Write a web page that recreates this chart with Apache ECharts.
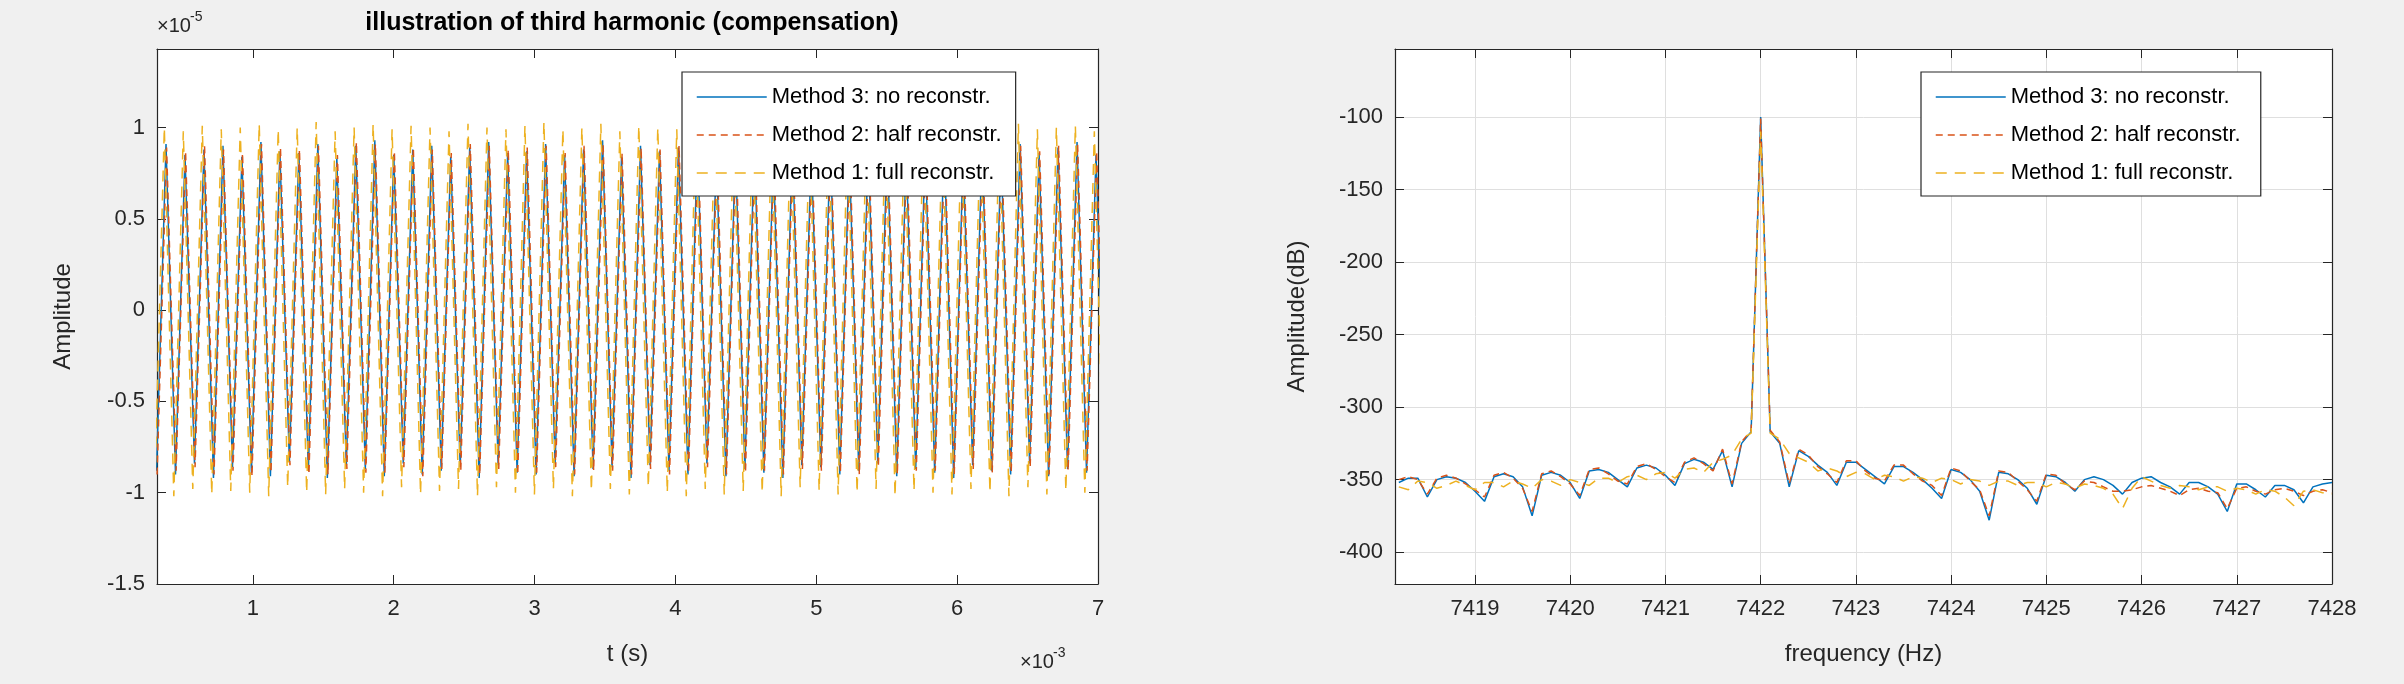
<!DOCTYPE html>
<html><head><meta charset="utf-8">
<script src="https://cdn.jsdelivr.net/npm/echarts@6/dist/echarts.min.js"></script>
<style>html,body{margin:0;background:#f0f0f0}#c{width:2404px;height:684px}</style>
</head><body><div id="c"></div>
<script>
// ---- Time domain data (t in ms, amplitude in 1e-5) ----
const freqHz = 7422;              // signal frequency
const firstPeak = [0.384, 0.388, 0.372]; // ms, Method 3, 2, 1
const xTicksT = [1,2,3,4,5,6,7];
const yTicksT = [-1.5,-1,-0.5,0,0.5,1];
const xTicksF = [7419,7420,7421,7422,7423,7424,7425,7426,7427,7428];
const yTicksF = [-400,-350,-300,-250,-200,-150,-100];
const bluePk = [0.91,0.85,0.88,0.90,0.84,0.92,0.87,0.86,0.91,0.83,0.90,0.93,0.85,0.88,0.90,0.84,0.89,0.92,0.86,0.87,0.91,0.85,0.88,0.93,0.84,0.90,0.87,0.89,0.92,0.85,0.88,0.91,0.84,0.90,0.87,0.92,0.86,0.89,0.91,0.85,0.88,0.92,0.84,0.90,0.87,0.91,0.86,0.89,0.92,0.85,0.90];
const blueTr = [-0.88,-0.90,-0.84,-0.92,-0.86,-0.89,-0.91,-0.83,-0.88,-0.92,-0.85,-0.87,-0.91,-0.84,-0.90,-0.88,-0.86,-0.92,-0.85,-0.89,-0.90,-0.84,-0.91,-0.87,-0.86,-0.92,-0.85,-0.88,-0.90,-0.84,-0.91,-0.87,-0.89,-0.92,-0.85,-0.86,-0.90,-0.88,-0.84,-0.91,-0.87,-0.89,-0.92,-0.85,-0.88,-0.90,-0.84,-0.91,-0.87,-0.89,-0.86];
const orangePk = [0.89,0.87,0.90,0.88,0.86,0.91,0.89,0.88,0.90,0.85,0.92,0.91,0.87,0.89,0.88,0.86,0.91,0.90,0.88,0.89,0.90,0.86,0.90,0.91,0.86,0.89,0.88,0.90,0.91,0.87,0.89,0.90,0.86,0.91,0.88,0.90,0.87,0.90,0.89,0.87,0.89,0.91,0.86,0.89,0.88,0.90,0.87,0.90,0.91,0.87,0.89];
const orangeTr = [-0.90,-0.88,-0.86,-0.90,-0.88,-0.91,-0.89,-0.85,-0.90,-0.90,-0.87,-0.89,-0.89,-0.86,-0.91,-0.87,-0.88,-0.90,-0.87,-0.90,-0.89,-0.86,-0.90,-0.88,-0.88,-0.90,-0.87,-0.90,-0.89,-0.86,-0.90,-0.89,-0.88,-0.90,-0.87,-0.88,-0.89,-0.90,-0.86,-0.90,-0.88,-0.88,-0.90,-0.87,-0.89,-0.89,-0.86,-0.90,-0.88,-0.88,-0.87];
const yellowPk = [1.00,0.98,1.01,0.99,1.00,1.02,0.99,1.00,1.03,0.98,1.00,1.02,0.99,1.01,1.00,0.98,1.02,1.00,0.99,1.01,1.03,0.99,1.00,1.02,0.98,1.01,1.00,0.99,1.03,0.99,1.00,1.02,0.98,1.01,1.00,1.02,0.99,1.00,1.01,0.98,1.00,1.02,0.99,1.01,1.00,1.02,0.99,1.00,1.01,0.98,1.00];
const yellowTr = [-0.96,-1.02,-0.98,-1.01,-0.99,-1.00,-1.02,-0.97,-1.00,-1.01,-0.98,-1.00,-1.02,-0.97,-1.01,-0.99,-0.98,-1.02,-0.97,-1.00,-1.01,-0.98,-1.02,-0.99,-0.98,-1.01,-0.97,-1.00,-1.02,-0.98,-1.01,-0.99,-1.00,-1.02,-0.97,-0.99,-1.01,-1.00,-0.98,-1.02,-0.99,-1.00,-1.01,-0.98,-1.00,-1.02,-0.97,-1.01,-0.99,-1.00,-1.02];

// ---- Spectrum data (f step 0.1 Hz from 7418.2) ----
const fStart = 7418.2, fStep = 0.1;
const specBlue = [-352,-349,-349,-362,-350,-348,-349,-352,-358,-365,-348,-346,-348,-355,-375,-347,-345,-347,-352,-363,-344,-343,-345,-350,-355,-342,-340,-342,-347,-354,-339,-336,-338,-343,-330,-355,-325,-317,-100,-317,-325,-355,-330,-334,-340,-345,-354,-338,-338,-343,-348,-353,-341,-341,-345,-350,-356,-363,-343,-345,-350,-358,-378,-345,-346,-350,-356,-367,-347,-348,-352,-358,-350,-348,-350,-354,-360,-352,-349,-348,-352,-355,-360,-352,-352,-355,-360,-372,-353,-353,-357,-362,-354,-354,-357,-366,-355,-353,-352];
const specOrange = [-350,-348,-350,-360,-349,-347,-349,-353,-357,-362,-347,-345,-349,-356,-372,-346,-344,-348,-353,-361,-343,-342,-346,-351,-353,-341,-339,-343,-348,-352,-338,-335,-339,-344,-329,-353,-324,-316,-101,-316,-324,-353,-329,-333,-341,-346,-352,-337,-337,-344,-349,-351,-340,-340,-346,-351,-354,-361,-342,-344,-351,-357,-375,-344,-345,-351,-357,-365,-346,-347,-353,-357,-351,-352,-355,-358,-358,-357,-355,-354,-356,-358,-361,-357,-356,-358,-359,-370,-356,-355,-358,-360,-357,-356,-358,-361,-358,-357,-359];
const specYellow = [-355,-357,-351,-352,-356,-354,-351,-354,-357,-352,-352,-355,-351,-353,-356,-350,-351,-354,-350,-352,-354,-349,-349,-352,-348,-347,-350,-346,-345,-349,-343,-342,-345,-338,-336,-333,-322,-318,-110,-318,-322,-332,-335,-338,-344,-342,-344,-348,-345,-346,-350,-347,-348,-351,-348,-349,-352,-349,-350,-353,-350,-351,-354,-351,-351,-354,-352,-352,-355,-352,-353,-356,-353,-354,-356,-360,-370,-356,-348,-351,-354,-356,-354,-355,-357,-355,-355,-358,-356,-357,-360,-357,-358,-362,-368,-358,-357,-359,-360];

const names = ['Method 3: no reconstr.','Method 2: half reconstr.','Method 1: full reconstr.'];
const colors = ['#0072BD','#D95319','#EDB120'];

function wave(t0, pk, tr){
  const T = 1000 / freqHz; const out = [];
  for (let k = 0; k < pk.length; k++){
    out.push([t0 + k*T - T/2, tr[k]]);
    out.push([t0 + k*T, pk[k]]);
  }
  return out;
}
function spec(arr){ return arr.map((v,i)=>[+(fStart + i*fStep).toFixed(2), v]); }

const font = 'Liberation Sans, Arial, sans-serif';
const lbl = {color:'#262626', fontSize:22, fontFamily:font, formatter:v=>String(v)};
const lineAx = {onZero:false, lineStyle:{color:'#262626', width:1.2}};
function tk(vals){ return {inside:true, length:9, lineStyle:{color:'#262626'}, customValues:vals}; }
function lineStyle(i){ return {color:colors[i], width:1.5, type: i===0?'solid':(i===1?[7,5]:[11,8])}; }
const styles = [0,1,2].map(lineStyle);

const wData = [wave(firstPeak[0],bluePk,blueTr), wave(firstPeak[1],orangePk,orangeTr), wave(firstPeak[2],yellowPk,yellowTr)];
const sData = [spec(specBlue), spec(specOrange), spec(specYellow)];

const legendBase = {orient:'vertical', backgroundColor:'#fff', borderColor:'#262626', borderWidth:1.2,
  padding:[14,14,12,14], itemGap:16, itemWidth:70, itemHeight:16,
  textStyle:{fontSize:22, fontFamily:font, color:'#000'}};

const series = [];
for (let i=0;i<3;i++){
  series.push({name:names[i], type:'line', xAxisIndex:0, yAxisIndex:0, data:wData[i], showSymbol:false, symbol:'none', lineStyle:styles[i], itemStyle:{color:colors[i]}, animation:false});
}
for (let i=0;i<3;i++){
  series.push({name:names[i]+' ', type:'line', xAxisIndex:2, yAxisIndex:2, data:sData[i], showSymbol:false, symbol:'none', lineStyle:styles[i], itemStyle:{color:colors[i]}, animation:false});
}

const chart = echarts.init(document.getElementById('c'));
chart.setOption({
  backgroundColor:'#f0f0f0',
  animation:false,
  title:{text:'illustration of third harmonic (compensation)', left:627, top:6, textAlign:'center',
    textStyle:{fontSize:25, fontWeight:'bold', fontFamily:font, color:'#000'}},
  legend:[
    Object.assign({}, legendBase, {data:names.map((n,i)=>({name:n, itemStyle:{opacity:0}, lineStyle:styles[i]})), left:682, top:72}),
    Object.assign({}, legendBase, {data:names.map((n,i)=>({name:n+' ', itemStyle:{opacity:0}, lineStyle:styles[i]})), left:1921, top:72})
  ],
  grid:[
    {left:157, width:941, top:49, height:535, show:true, backgroundColor:'#fff', borderColor:'transparent'},
    {left:1395, width:937, top:49, height:535, show:true, backgroundColor:'#fff', borderColor:'transparent'}
  ],
  xAxis:[
    {type:'value', gridIndex:0, min:0.32, max:7, name:'t (s)', nameLocation:'middle', nameGap:58,
     nameTextStyle:{fontSize:24, fontFamily:font, color:'#262626'}, axisLine:lineAx, axisTick:tk(xTicksT), axisLabel:Object.assign({margin:14, customValues:xTicksT},lbl), splitLine:{show:false}},
    {type:'value', gridIndex:0, position:'top', min:0.32, max:7, axisLine:lineAx, axisTick:tk(xTicksT), axisLabel:{show:false, customValues:xTicksT}, splitLine:{show:false}},
    {type:'value', gridIndex:1, min:7418.16, max:7428, name:'frequency (Hz)', nameLocation:'middle', nameGap:58,
     nameTextStyle:{fontSize:24, fontFamily:font, color:'#262626'}, axisLine:lineAx, axisTick:tk(xTicksF), axisLabel:Object.assign({margin:14, customValues:xTicksF},lbl), splitLine:{show:true, lineStyle:{color:'#dfdfdf'}}},
    {type:'value', gridIndex:1, position:'top', min:7418.16, max:7428, axisLine:lineAx, axisTick:tk(xTicksF), axisLabel:{show:false, customValues:xTicksF}, splitLine:{show:false}}
  ],
  yAxis:[
    {type:'value', gridIndex:0, min:-1.5, max:1.43, name:'Amplitude', nameLocation:'middle', nameGap:82,
     nameTextStyle:{fontSize:24, fontFamily:font, color:'#262626'}, axisLine:lineAx, axisTick:tk(yTicksT), axisLabel:Object.assign({margin:12, customValues:yTicksT},lbl), splitLine:{show:false}},
    {type:'value', gridIndex:0, position:'right', min:-1.5, max:1.43, axisLine:lineAx, axisTick:tk(yTicksT), axisLabel:{show:false, customValues:yTicksT}, splitLine:{show:false}},
    {type:'value', gridIndex:1, min:-422, max:-53, name:'Amplitude(dB)', nameLocation:'middle', nameGap:86,
     nameTextStyle:{fontSize:24, fontFamily:font, color:'#262626'}, axisLine:lineAx, axisTick:tk(yTicksF), axisLabel:Object.assign({margin:12, customValues:yTicksF},lbl), splitLine:{show:true, lineStyle:{color:'#dfdfdf'}}},
    {type:'value', gridIndex:1, position:'right', min:-422, max:-53, axisLine:lineAx, axisTick:tk(yTicksF), axisLabel:{show:false, customValues:yTicksF}, splitLine:{show:false}}
  ],
  graphic:[
    {type:'text', left:157, top:16, style:{text:'×10', fontSize:20, fontFamily:font, fill:'#262626'}},
    {type:'text', left:190, top:10, style:{text:'-5', fontSize:14, fontFamily:font, fill:'#262626'}},
    {type:'text', left:1020, top:652, style:{text:'×10', fontSize:20, fontFamily:font, fill:'#262626'}},
    {type:'text', left:1053, top:646, style:{text:'-3', fontSize:14, fontFamily:font, fill:'#262626'}}
  ],
  series:series
});
</script></body></html>
